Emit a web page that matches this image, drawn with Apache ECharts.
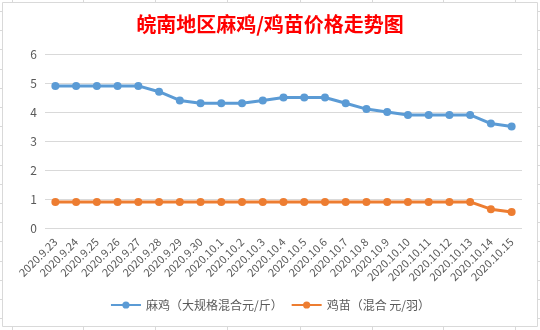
<!DOCTYPE html>
<html>
<head>
<meta charset="utf-8">
<script src="https://cdn.jsdelivr.net/npm/echarts@6/dist/echarts.min.js"></script>
<style>
  html, body { margin: 0; padding: 0; background: #ffffff; }
  #chart { width: 540px; height: 330px; }
</style>
</head>
<body>
<div id="chart"></div>
<script>
// Dates of the price reports
const dates = [
  '2020.9.23', '2020.9.24', '2020.9.25', '2020.9.26', '2020.9.27', '2020.9.28',
  '2020.9.29', '2020.9.30', '2020.10.1', '2020.10.2', '2020.10.3', '2020.10.4',
  '2020.10.5', '2020.10.6', '2020.10.7', '2020.10.8', '2020.10.9', '2020.10.10',
  '2020.10.11', '2020.10.12', '2020.10.13', '2020.10.14', '2020.10.15'
];

// 麻鸡 price, yuan per jin
const majiPrice = [
  4.9, 4.9, 4.9, 4.9, 4.9, 4.7, 4.4, 4.3, 4.3, 4.3, 4.4, 4.5,
  4.5, 4.5, 4.3, 4.1, 4.0, 3.9, 3.9, 3.9, 3.9, 3.6, 3.5
];

// 鸡苗 price, yuan per chick
const jimiaoPrice = [
  0.9, 0.9, 0.9, 0.9, 0.9, 0.9, 0.9, 0.9, 0.9, 0.9, 0.9, 0.9,
  0.9, 0.9, 0.9, 0.9, 0.9, 0.9, 0.9, 0.9, 0.9, 0.65, 0.55
];

const seriesNames = ['麻鸡（大规格混合元/斤）', '鸡苗（混合 元/羽）'];
const yTicks = { min: 0, max: 6, interval: 1 };

const chart = echarts.init(document.getElementById('chart'), null, { renderer: 'canvas' });

const fontFamily = '"Noto Sans CJK SC", "Noto Sans", sans-serif';

// Chart frame plus the faint sheet cell lines peeking out around it
const frame = [{
  type: 'rect',
  shape: { x: 2.5, y: 2.5, width: 535, height: 324 },
  style: { fill: 'none', stroke: '#d9d9d9', lineWidth: 1 },
  silent: true
}];
const cellRows = [];
for (let y = 11; y < 326; y += 19.2) cellRows.push(Math.round(y) + 0.5);
const cellCols = [12, 83, 155, 227, 300, 372, 443, 515];
cellRows.forEach(function (y) {
  frame.push({ type: 'line', silent: true, shape: { x1: 0, y1: y, x2: 2, y2: y }, style: { stroke: '#d9d9d9', lineWidth: 1 } });
  frame.push({ type: 'line', silent: true, shape: { x1: 538, y1: y, x2: 540, y2: y }, style: { stroke: '#d9d9d9', lineWidth: 1 } });
});
cellCols.forEach(function (x) {
  frame.push({ type: 'line', silent: true, shape: { x1: x + 0.5, y1: 0, x2: x + 0.5, y2: 2 }, style: { stroke: '#d9d9d9', lineWidth: 1 } });
  frame.push({ type: 'line', silent: true, shape: { x1: x + 0.5, y1: 327, x2: x + 0.5, y2: 330 }, style: { stroke: '#d9d9d9', lineWidth: 1 } });
});

chart.setOption({
  animation: false,
  backgroundColor: '#ffffff',
  title: {
    text: '皖南地区麻鸡/鸡苗价格走势图',
    left: 'center',
    top: 9,
    textStyle: {
      color: '#ff0000',
      fontSize: 20,
      fontWeight: 'bold',
      fontFamily: fontFamily
    }
  },
  graphic: frame,
  grid: {
    left: 45,
    right: 18,
    top: 54,
    bottom: 102
  },
  legend: {
    bottom: 14,
    left: 'center',
    itemWidth: 30,
    itemHeight: 9,
    itemGap: 8,
    textStyle: { color: '#595959', fontSize: 12, fontFamily: fontFamily },
    data: seriesNames
  },
  xAxis: {
    type: 'category',
    data: dates,
    boundaryGap: true,
    axisLine: { show: false },
    axisTick: { show: false },
    axisLabel: {
      interval: 0,
      rotate: 45,
      margin: 12,
      color: '#595959',
      fontSize: 11,
      fontFamily: fontFamily
    }
  },
  yAxis: {
    type: 'value',
    min: yTicks.min,
    max: yTicks.max,
    interval: yTicks.interval,
    axisLine: { show: false },
    axisTick: { show: false },
    axisLabel: {
      color: '#595959',
      fontSize: 12,
      margin: 8,
      fontFamily: fontFamily
    },
    splitLine: { lineStyle: { color: '#d9d9d9', width: 1 } }
  },
  series: [
    {
      name: seriesNames[0],
      type: 'line',
      data: majiPrice,
      symbol: 'circle',
      symbolSize: 8,
      color: '#5b9bd5',
      lineStyle: { width: 3, color: '#5b9bd5' },
      itemStyle: { color: '#5b9bd5' }
    },
    {
      name: seriesNames[1],
      type: 'line',
      data: jimiaoPrice,
      symbol: 'circle',
      symbolSize: 8,
      color: '#ed7d31',
      lineStyle: { width: 3, color: '#ed7d31' },
      itemStyle: { color: '#ed7d31' }
    }
  ]
});
</script>
</body>
</html>
